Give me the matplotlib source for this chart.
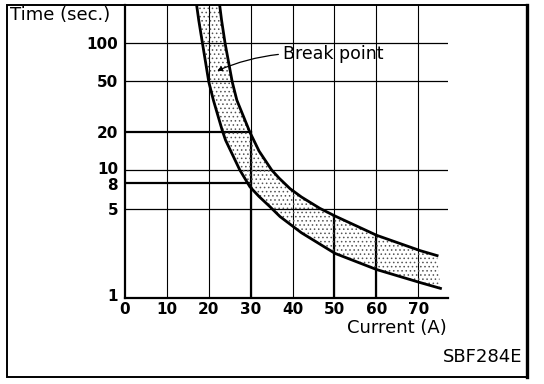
import matplotlib
matplotlib.use("Agg")
import matplotlib.pyplot as plt
import matplotlib.transforms as mtransforms
from matplotlib.patches import Rectangle
from matplotlib.lines import Line2D
from matplotlib.ticker import FixedLocator, FixedFormatter, NullLocator

# ---- data ----
lower_x = [17.1, 17.6, 18.5, 20.0, 21.1, 23.2, 24.0, 27.4, 29.8, 32.0, 34.6, 37.0, 42.1, 50.1, 60.1, 70.5, 75.3]
lower_y = [198, 151, 99, 49.5, 35.6, 20.7, 17.3, 10.1, 7.46, 6.25, 5.2, 4.35, 3.25, 2.24, 1.67, 1.32, 1.19]

upper_x = [22.6, 23.05, 23.9, 25.6, 26.7, 29.8, 32.0, 35.0, 36.8, 39.4, 42.1, 46.5, 50.1, 60.1, 70.5, 74.5]
upper_y = [198, 151, 99, 49.5, 35.6, 20.0, 14.2, 10.1, 8.7, 7.2, 6.2, 5.05, 4.4, 3.1, 2.35, 2.15]

x_ticks = [0, 10, 20, 30, 40, 50, 60, 70]
x_tick_labels = ["0", "10", "20", "30", "40", "50", "60", "70"]
y_ticks = [1, 5, 8, 10, 20, 50, 100]
y_tick_labels = ["1", "5", "8", "10", "20", "50", "100"]

full_h_grid = [100, 50, 10, 5]
short_h_grid = [20, 8]
short_h_end = 30
thick_v_x = [30, 50, 60]
thick_v_top = [20, 4.4, 3.1]

break_point_xy = (22.0, 60.5)
break_label_xy = (37.6, 82)

# ---- figure ----
W, H = 544, 384
fig = plt.figure(figsize=(W / 100, H / 100), dpi=100)
ax = fig.add_axes([125 / W, 86 / H, 323 / W, 293 / H])
ax.set_yscale("log")
ax.set_xlim(0, 77.1)
ax.set_ylim(1, 198.6)

for s in ["top", "right"]:
    ax.spines[s].set_visible(False)
for s in ["left", "bottom"]:
    ax.spines[s].set_linewidth(1.6)
    ax.spines[s].set_color("black")

ax.xaxis.set_major_locator(FixedLocator(x_ticks))
ax.xaxis.set_major_formatter(FixedFormatter(x_tick_labels))
ax.yaxis.set_major_locator(FixedLocator(y_ticks))
ax.yaxis.set_major_formatter(FixedFormatter(y_tick_labels))
ax.yaxis.set_minor_locator(NullLocator())
ax.xaxis.set_minor_locator(NullLocator())
ax.tick_params(axis="both", length=0)
ax.tick_params(axis="y", pad=5)
ax.tick_params(axis="x", pad=3)
for lab in ax.get_xticklabels() + ax.get_yticklabels():
    lab.set_fontweight("bold")
    lab.set_fontsize(11)

# nudge the crowded "10" / "8" labels apart, as in the reference
ylabs = ax.get_yticklabels()
shift_px = {"10": 2.5, "8": -1.5, "1": 3}
for lab, txt in zip(ylabs, y_tick_labels):
    if txt in shift_px:
        off = mtransforms.ScaledTranslation(0, shift_px[txt] / 100, fig.dpi_scale_trans)
        lab.set_transform(lab.get_transform() + off)

# grid
for xv in x_ticks[1:]:
    ax.axvline(xv, color="black", lw=0.8, zorder=1)
for yv in full_h_grid:
    ax.axhline(yv, color="black", lw=0.9, zorder=1)
for yv in short_h_grid:
    ax.plot([0, short_h_end], [yv, yv], color="black", lw=1.6, zorder=1)
for xv, top in zip(thick_v_x, thick_v_top):
    ax.plot([xv, xv], [1, top], color="black", lw=1.6, zorder=1)

# stippled band
poly_x = lower_x + upper_x[::-1]
poly_y = lower_y + upper_y[::-1]
plt.rcParams["hatch.linewidth"] = 0.6
ax.fill(poly_x, poly_y, facecolor="none", edgecolor="#555555", hatch="....", lw=0, zorder=2)

# curves
ax.plot(lower_x, lower_y, color="black", lw=2.0, zorder=3, solid_joinstyle="round")
ax.plot(upper_x, upper_y, color="black", lw=2.0, zorder=3, solid_joinstyle="round")

# annotation
ax.annotate("Break point", xy=break_point_xy, xytext=break_label_xy,
            fontsize=12.5, ha="left", va="center", zorder=4,
            arrowprops=dict(arrowstyle="-|>", color="black", lw=0.9,
                            mutation_scale=7, shrinkA=1, shrinkB=0,
                            relpos=(0, 0.5), connectionstyle="arc3,rad=0.08"))

# texts
fig.text(10 / W, 1 - 15 / H, "Time (sec.)", fontsize=13, ha="left", va="center")
fig.text(397 / W, 1 - 328 / H, "Current (A)", fontsize=13, ha="center", va="center")
fig.text(522 / W, 1 - 357 / H, "SBF284E", fontsize=13, ha="right", va="center")

# outer frame
fig.add_artist(Rectangle((7 / W, 7 / H), 520 / W, 372 / H, transform=fig.transFigure,
                         fill=False, lw=1.4, ec="black"))
fig.add_artist(Line2D([527 / W, 527 / W], [7 / H, 379 / H], transform=fig.transFigure,
                      lw=2.4, color="black"))

fig.savefig("out.png", dpi=100)
